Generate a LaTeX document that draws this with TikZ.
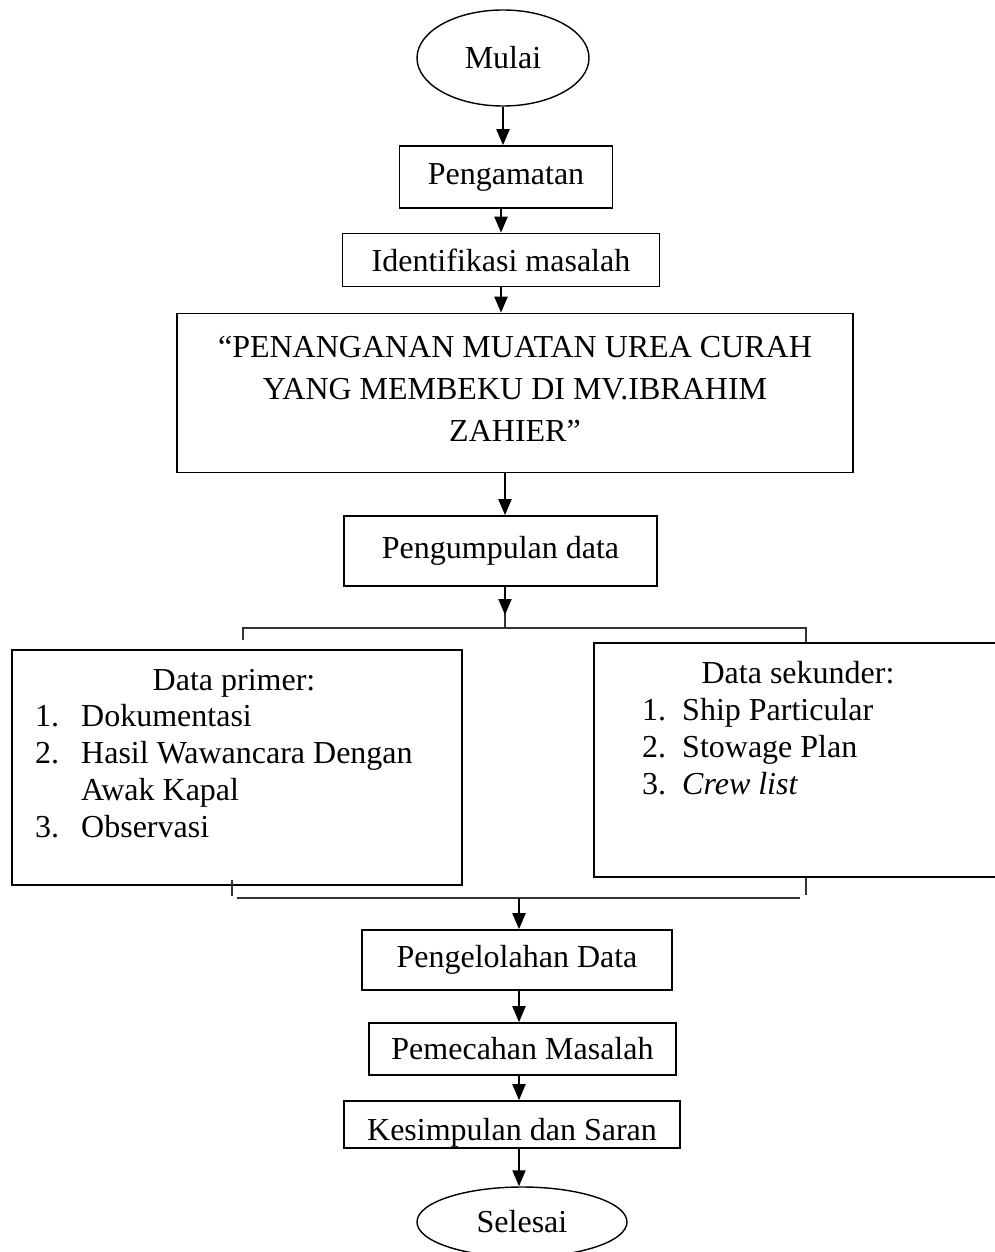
\documentclass[tikz,border=0pt]{standalone}
\usepackage{fontspec}
\setmainfont{Liberation Serif}
\usetikzlibrary{arrows.meta,calc,shapes.geometric}
\begin{document}
\begin{tikzpicture}[x=1pt,y=-1pt,
 box/.style={draw,line width=1.6pt,inner sep=0pt,font=\fontsize{32}{42}\selectfont,align=center},
 term/.style={draw,ellipse,line width=1.4pt,inner sep=0pt,font=\fontsize{32}{42}\selectfont},
 txt/.style={inner sep=0pt,anchor=base west,font=\fontsize{32}{37}\selectfont},
 ttl/.style={inner sep=0pt,anchor=base,font=\fontsize{32}{37}\selectfont},
 arr/.style={line width=2pt,-{Triangle[length=16pt,width=13pt]}},
 thinl/.style={line width=1.2pt,draw=black!80}]
\useasboundingbox (0,0) rectangle (995,1252);

\node[term, minimum width=172pt, minimum height=96pt] (mulai) at (503,58) {Mulai};
\node[box, minimum width=213pt, minimum height=62pt] (peng) at (506,177) {Pengamatan};
\node[box, minimum width=317pt, minimum height=53pt] (ident) at (501,260) {Identifikasi masalah};
\node[box, minimum width=676pt, minimum height=159pt] (judul) at (515,393) {};
\node[inner sep=0pt, font=\fontsize{32}{42}\selectfont, align=center] (judult) at (515,389)
  {“PENANGANAN MUATAN UREA CURAH\\YANG MEMBEKU DI MV.IBRAHIM\\ZAHIER”};
\node[box, minimum width=313pt, minimum height=70pt] (pump) at (500.5,551) {Pengumpulan data};

\node[box, minimum width=450pt, minimum height=235pt] (prim) at (237,767.5) {};
\node[ttl] (primt) at (234,690) {Data primer:};
\node[txt] (p1n) at (35,726) {1.};
\node[txt] (p1) at (81,726) {Dokumentasi};
\node[txt] (p2n) at (35,763) {2.};
\node[txt] (p2) at (81,763) {Hasil Wawancara Dengan};
\node[txt] (p2b) at (81,800) {Awak Kapal};
\node[txt] (p3n) at (35,837) {3.};
\node[txt] (p3) at (81,837) {Observasi};

\node[box, minimum width=411pt, minimum height=234pt] (sek) at (799.5,760) {};
\node[ttl] (sekt) at (798,683) {Data sekunder:};
\node[txt] (s1n) at (642,720) {1.};
\node[txt] (s1) at (682,720) {Ship Particular};
\node[txt] (s2n) at (642,757) {2.};
\node[txt] (s2) at (682,757) {Stowage Plan};
\node[txt] (s3n) at (642,794) {3.};
\node[txt] (s3) at (682,794) {\itshape Crew list};

\node[box, minimum width=310pt, minimum height=60pt] (olah) at (517,960) {Pengelolahan Data};
\node[box, minimum width=307pt, minimum height=52pt] (pecah) at (522.5,1049) {Pemecahan Masalah};
\node[box, minimum width=336pt, minimum height=47pt, text height=31pt, text depth=0pt] (simp) at (512,1124.5) {Kesimpulan dan Saran};
\node[term, minimum width=210pt, minimum height=70pt] (selesai) at (522,1222) {Selesai};

\coordinate (split) at (505,628);
\coordinate (bl) at (243,628);
\coordinate (br) at (806,628);
\coordinate (merge) at (519,898);

\draw[arr] (mulai.south) -- (mulai.south |- peng.north);
\draw[arr] (peng.south -| ident.north) -- (ident.north);
\draw[arr] (ident.south) -- (ident.south |- judul.north);
\draw[arr] (judul.south -| split) -- (pump.north -| split);
\draw[thinl] (pump.south -| split) -- (split);
\draw[arr] (pump.south -| split) -- ($(split)+(0,-13)$);
\draw[thinl] ($(bl)+(0,12)$) -- (bl) -- (br) -- (br |- sek.north);

\draw[thinl] (237,898) -- (800,898);
\draw[thinl] (232,880) -- (232,896);
\draw[thinl] (806,878) -- (806,895);
\draw[arr] (merge) -- (merge |- olah.north);
\draw[arr] (olah.south -| merge) -- (pecah.north -| merge);
\draw[arr] (pecah.south -| merge) -- (simp.north -| merge);
\draw[arr] (simp.south -| merge) -- (selesai.north -| merge);
\end{tikzpicture}
\end{document}
